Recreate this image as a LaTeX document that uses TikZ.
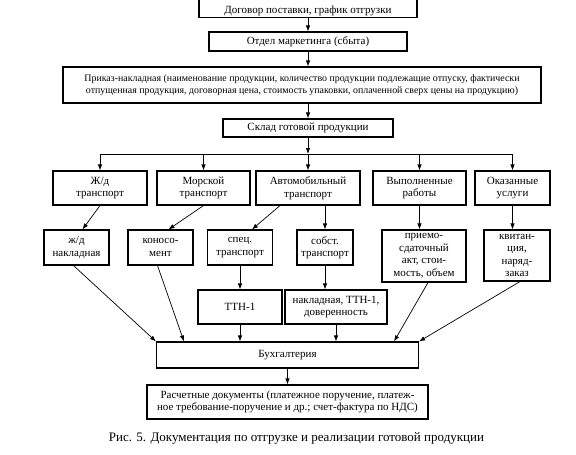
\documentclass[tikz,border=0pt]{standalone}
\usepackage{fontspec}
\setmainfont{Liberation Serif}
\usetikzlibrary{arrows.meta}

\tikzset{
  box/.style={draw, line width=1.1pt, align=center, inner sep=1pt,
    font=\fontsize{11}{12.5}\selectfont},
  upper/.style={box, minimum height=34pt},
  lower/.style={box, minimum height=35pt},
}

\begin{document}
\begin{tikzpicture}[>={Latex[length=6pt,width=4.5pt]}, x=1pt, y=-1pt, line width=0.7pt]
    \useasboundingbox (0,0) rectangle (576,455);

    % main column
    \node[box, minimum width=218pt, minimum height=29pt, text height=24pt, text depth=3pt] (dogovor) at (308,3) {Договор поставки, график отгрузки};
    \node[box, minimum width=198pt, minimum height=19pt] (otdel) at (308,41.5) {Отдел маркетинга (сбыта)};
    \node[box, minimum width=478pt, minimum height=36pt, font=\fontsize{9.9}{11.5}\selectfont] (prikaz) at (302,85) {Приказ-накладная (наименование продукции, количество продукции подлежащие отпуску, фактически\\отпущенная продукция, договорная цена, стоимость упаковки, оплаченной сверх цены на продукцию)};
    \node[box, minimum width=170pt, minimum height=18pt] (sklad) at (308,128) {Склад готовой продукции};
    \coordinate (bus) at (308,154);

    % kinds of shipment
    \node[upper, minimum width=94pt] (zd_tr) at (100,188) {Ж/д\\транспорт};
    \node[upper, minimum width=93pt] (mor_tr) at (203.5,188) {Морской\\транспорт};
    \node[upper, minimum width=104pt] (avto_tr) at (308,188) {Автомобильный\\транспорт};
    \node[upper, minimum width=93pt] (vyp) at (419.5,188) {Выполненные\\работы};
    \node[upper, minimum width=75pt] (okaz) at (512.5,188) {Оказанные\\услуги};

    % documents
    \node[lower, minimum width=65pt] (zd_nakl) at (76.5,247.5) {ж/д\\накладная};
    \node[lower, minimum width=65pt] (konos) at (160.5,247.5) {коносо-\\мент};
    \node[lower, minimum width=65pt] (spec) at (240,247.5) {спец.\\транспорт};
    \node[lower, minimum width=56pt] (sobst) at (325,247.5) {собст.\\транспорт};
    \node[box, minimum width=84pt, minimum height=52pt] (priemo) at (424,256) {приемо-\\сдаточный\\акт, стои-\\мость, объем};
    \node[box, minimum width=66pt, minimum height=51pt] (kvit) at (517,255.5) {квитан-\\ция,\\наряд-\\заказ};
    \node[upper, minimum width=84pt] (ttn) at (240,307) {ТТН-1};
    \node[upper, minimum width=102pt] (nakl) at (336,307) {накладная, ТТН-1,\\доверенность};

    \node[box, minimum width=262pt, minimum height=26pt] (buh) at (287.5,355) {Бухгалтерия};
    \node[box, minimum width=281pt, minimum height=34pt] (raschet) at (287.5,402) {Расчетные документы (платежное поручение, платеж-\\ное требование-поручение и др.; счет-фактура по НДС)};

    \node[font=\fontsize{13}{15}\selectfont] (caption) at (296.5,438) {Рис. 5. Документация по отгрузке и реализации готовой продукции};

    % connectors
    \path[->] (dogovor) edge (otdel);
    \path[->] (otdel.south) edge (otdel.south |- prikaz.north);
    \path[->] (sklad.north |- prikaz.south) edge (sklad.north);
    \path[->] (sklad) edge (bus);
    \draw (zd_tr.north |- bus) -- (okaz.north |- bus);
    \foreach \n in {zd_tr,mor_tr,avto_tr,vyp,okaz}
        \draw[->] (\n.north |- bus) -- (\n.north);

    \path[->] (zd_tr.south) edge ([xshift=6pt]zd_nakl.north);
    \path[->] (mor_tr.south) edge ([xshift=8pt]konos.north);
    \path[->] ([xshift=-28pt]avto_tr.south) edge ([xshift=12pt]spec.north);
    \path[->] (avto_tr.south -| sobst) edge (sobst);
    \path[->] (vyp.south) edge (vyp.south |- priemo.north);
    \path[->] (okaz.south) edge (okaz.south |- kvit.north);
    \path[->] (spec) edge (ttn);
    \path[->] (sobst.south) edge (sobst.south |- nakl.north);

    \path[->] ([xshift=-3pt]zd_nakl.south) edge (buh.north west);
    \path[->] ([xshift=-3pt]konos.south) edge ([xshift=28pt]buh.north west);
    \path[->] (ttn.south) edge (ttn.south |- buh.north);
    \path[->] (nakl.south) edge (nakl.south |- buh.north);
    \path[->] ([xshift=4pt]priemo.south) edge ([xshift=-25pt]buh.north east);
    \path[->] ([xshift=3pt]kvit.south) edge (buh.north east);
    \path[->] (buh) edge (raschet);
\end{tikzpicture}
\end{document}
